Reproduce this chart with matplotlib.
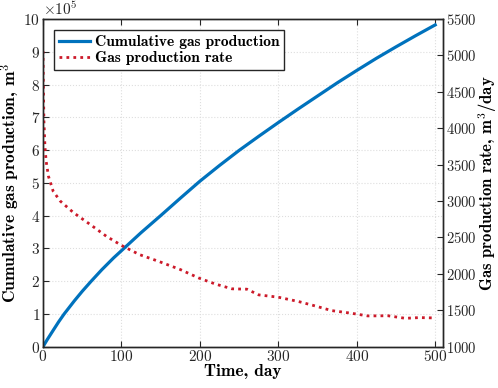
import matplotlib
matplotlib.use("Agg")
import matplotlib.pyplot as plt

plt.rcParams['font.family'] = 'serif'
plt.rcParams['font.serif'] = ['cmr10', 'DejaVu Serif']
plt.rcParams['mathtext.fontset'] = 'cm'
plt.rcParams['axes.formatter.use_mathtext'] = True
plt.rcParams['axes.unicode_minus'] = False

# cumulative gas production, m^3
t_cum = [0, 5, 13, 20, 27, 40, 50, 61.5, 75, 90, 100, 125, 150, 175, 200, 225,
         250, 275, 300, 325, 350, 375, 400, 425, 450, 475, 500]
cum = [0, 0.2e5, 0.5e5, 0.76e5, 1.0e5, 1.4e5, 1.69e5, 2.0e5, 2.35e5,
       2.71e5, 2.93e5, 3.48e5, 4.0e5, 4.53e5, 5.05e5, 5.53e5, 5.99e5, 6.42e5,
       6.84e5, 7.25e5, 7.65e5, 8.05e5, 8.43e5, 8.8e5, 9.15e5, 9.49e5, 9.82e5]

# gas production rate, m^3/day
t_rate = [0, 0.5, 1.2, 2.5, 4, 7, 13, 22, 39, 60, 81, 102, 123, 148, 175, 199,
          220, 241, 260, 275, 300, 326, 347, 368, 393, 414, 440, 462, 480, 500]
rate = [5060, 4600, 4100, 3750, 3550, 3340, 3135, 3000, 2840, 2680, 2515, 2380,
        2265, 2170, 2060, 1942, 1860, 1795, 1790, 1712, 1680, 1620, 1560, 1496,
        1460, 1423, 1425, 1390, 1400, 1395]

blue = '#0072BD'
red = '#CC1A2A'
dark = '#262626'

fig = plt.figure(figsize=(4.98, 3.88), dpi=100)
ax = fig.add_axes([0.0863, 0.1064, 0.8033, 0.8446])
ax2 = ax.twinx()

l1, = ax.plot(t_cum, cum, color=blue, lw=2.3)
l2, = ax2.plot(t_rate, rate, color=red, lw=2.0, linestyle=(0, (1, 1.5)),
               dash_capstyle='butt')

ax.set_xlim(0, 510)
ax.set_ylim(0, 1e6)
ax2.set_ylim(1000, 5500)
ax.set_xticks(range(0, 501, 100))
ax.set_yticks([i * 1e5 for i in range(11)])
ax2.set_yticks(range(1000, 5501, 500))
ax.ticklabel_format(axis='y', style='sci', scilimits=(5, 5), useMathText=True)

ax.grid(True, color='#dedede', linestyle=':', linewidth=0.8)
ax.set_axisbelow(True)

ax.tick_params(axis='both', direction='in', labelsize=11, colors=dark,
               top=True, length=4, width=0.8, pad=2)
ax.tick_params(axis='y', right=False)
ax2.tick_params(axis='y', direction='in', labelsize=10.5, colors=dark,
                length=4, width=0.8, pad=2)
for a in (ax, ax2):
    for s in a.spines.values():
        s.set_color(dark)
        s.set_linewidth(1.0)
ax.yaxis.get_offset_text().set_fontsize(11)

ax.set_xlabel('Time, day', family='cmb10', fontsize=12.5, labelpad=0)
ax.set_ylabel(r'Cumulative gas production, $\mathbf{m^3}$', family='cmb10',
              fontsize=12.5, labelpad=1)
ax2.set_ylabel(r'Gas production rate, $\mathbf{m^3}$/day', family='cmb10',
               fontsize=12, labelpad=0)

leg = ax.legend([l1, l2], ['Cumulative gas production', 'Gas production rate'],
                loc='upper left', bbox_to_anchor=(0.02, 0.975),
                prop={'family': 'cmb10', 'size': 11.2}, fancybox=False,
                framealpha=1, edgecolor=dark, handlelength=2.0,
                borderpad=0.3, labelspacing=0.15, handletextpad=0.3,
                borderaxespad=0.2)
leg.get_frame().set_linewidth(1.0)

fig.savefig('out.png', dpi=100)
